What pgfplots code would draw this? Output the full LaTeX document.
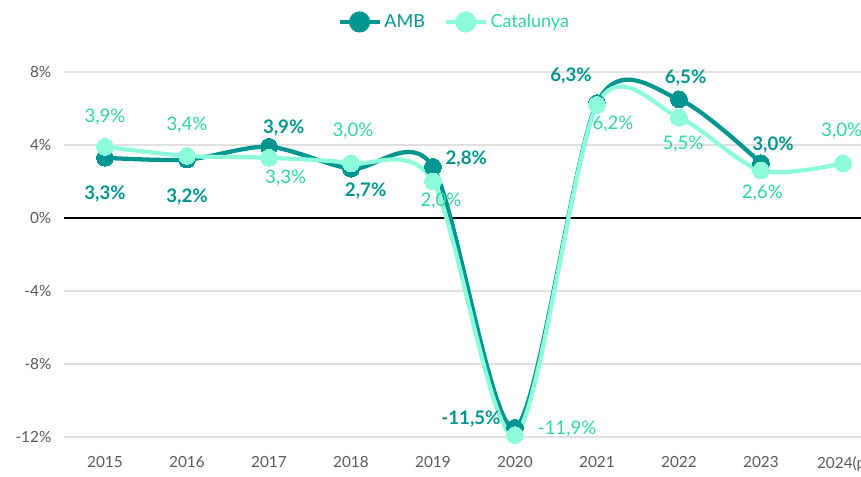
\documentclass[border=0pt]{standalone}
\usepackage{pgfplots}
\pgfplotsset{compat=1.18}
\usepackage{fontspec}
\setmainfont{Lato}
\definecolor{amb}{HTML}{00968F}
\definecolor{cat}{HTML}{8DFCDB}
\definecolor{cattext}{HTML}{2ED6A2}
\definecolor{ticktext}{HTML}{595959}
\definecolor{gridc}{HTML}{E0E0E0}
\begin{document}
\begin{tikzpicture}
\begin{axis}[
  at={(48pt,30pt)}, anchor=south west,
  scale only axis, width=597.75pt, height=273.75pt,
  xmin=-0.5, xmax=9.22, ymin=-12, ymax=8,
  clip=false,
  axis line style={draw=none},
  major tick length=0pt,
  ytick={-12,-8,-4,0,4,8},
  yticklabel={\pgfmathprintnumber{\tick}\%},
  xtick={0,...,9},
  xticklabels={2015,2016,2017,2018,2019,2020,2021,2022,2023,2024(p)},
  ymajorgrids, grid style={gridc, line width=1pt},
  /pgf/number format/assume math mode=true,
  ticklabel style={font=\fontsize{11.5}{13}\selectfont, text=ticktext},
  yticklabel style={xshift=-6pt},
  xticklabel style={yshift=-11pt},
  legend columns=2,
  legend style={draw=none, fill=none, at={(0.49,1.137)}, anchor=center,
    font=\fontsize{13.5}{15}\selectfont, /tikz/every even column/.append style={column sep=12pt}},
  legend image code/.code={
    \draw[#1, line width=3.2pt] (0pt,0pt) -- (30pt,0pt);
    \fill[#1] (15pt,0pt) circle (6.3pt);
  },
]
\draw[black, line width=1.2pt] (axis cs:-0.5,0) -- (axis cs:9.22,0);
\addplot[color=amb, line width=3.2pt, smooth, tension=0.5, mark=*, mark size=6.3pt,
  mark options={fill=amb, draw=amb, line width=0pt}] coordinates {
  (0,3.3) (1,3.2) (2,3.9) (3,2.7) (4,2.8) (5,-11.5) (6,6.3) (7,6.5) (8,3.0)};
\addlegendentry[text=amb]{AMB}
\addplot[color=cat, line width=3.2pt, smooth, tension=0.5, mark=*, mark size=6.3pt,
  mark options={fill=cat, draw=cat, line width=0pt}] coordinates {
  (0,3.9) (1,3.4) (2,3.3) (3,3.0) (4,2.0) (5,-11.9) (6,6.2) (7,5.5) (8,2.6) (9,3.0)};
\addlegendentry[text=cattext]{Catalunya}
% AMB labels
\begin{scope}[every node/.style={font=\fontsize{14}{16}\selectfont\bfseries, text=amb}]
\node at (axis cs:0,3.3) [yshift=-27pt] {3,3\%};
\node at (axis cs:1,3.2) [yshift=-27.75pt] {3,2\%};
\node at (axis cs:2,3.9) [xshift=11pt, yshift=14pt] {3,9\%};
\node at (axis cs:3,2.7) [xshift=11pt, yshift=-16.5pt] {2,7\%};
\node at (axis cs:4,2.8) [xshift=25pt, yshift=6pt] {2,8\%};
\node at (axis cs:5,-11.5) [xshift=-33pt, yshift=6.5pt] {-11,5\%};
\node at (axis cs:6,6.3) [xshift=-19.5pt, yshift=20pt] {6,3\%};
\node at (axis cs:7,6.5) [xshift=5pt, yshift=16pt] {6,5\%};
\node at (axis cs:8,3.0) [xshift=9pt, yshift=14pt] {3,0\%};
\end{scope}
% Catalunya labels
\begin{scope}[every node/.style={font=\fontsize{14}{16}\selectfont, text=cattext}]
\node at (axis cs:0,3.9) [yshift=22pt] {3,9\%};
\node at (axis cs:1,3.4) [yshift=23pt] {3,4\%};
\node at (axis cs:2,3.3) [xshift=12.5pt, yshift=-15pt] {3,3\%};
\node at (axis cs:3,3.0) [xshift=1.5pt, yshift=24pt] {3,0\%};
\node at (axis cs:4,2.0) [xshift=6pt, yshift=-15pt] {2,0\%};
\node at (axis cs:5,-11.9) [xshift=39pt, yshift=4.5pt] {-11,9\%};
\node at (axis cs:6,6.2) [xshift=12pt, yshift=-14pt] {6,2\%};
\node at (axis cs:7,5.5) [xshift=3pt, yshift=-19.5pt] {5,5\%};
\node at (axis cs:8,2.6) [xshift=1pt, yshift=-16.5pt] {2,6\%};
\node at (axis cs:9,3.0) [xshift=-1pt, yshift=24pt] {3,0\%};
\end{scope}
\end{axis}
\pgfresetboundingbox
\useasboundingbox (0pt,0pt) rectangle (645.75pt,357.75pt);
\end{tikzpicture}
\end{document}
